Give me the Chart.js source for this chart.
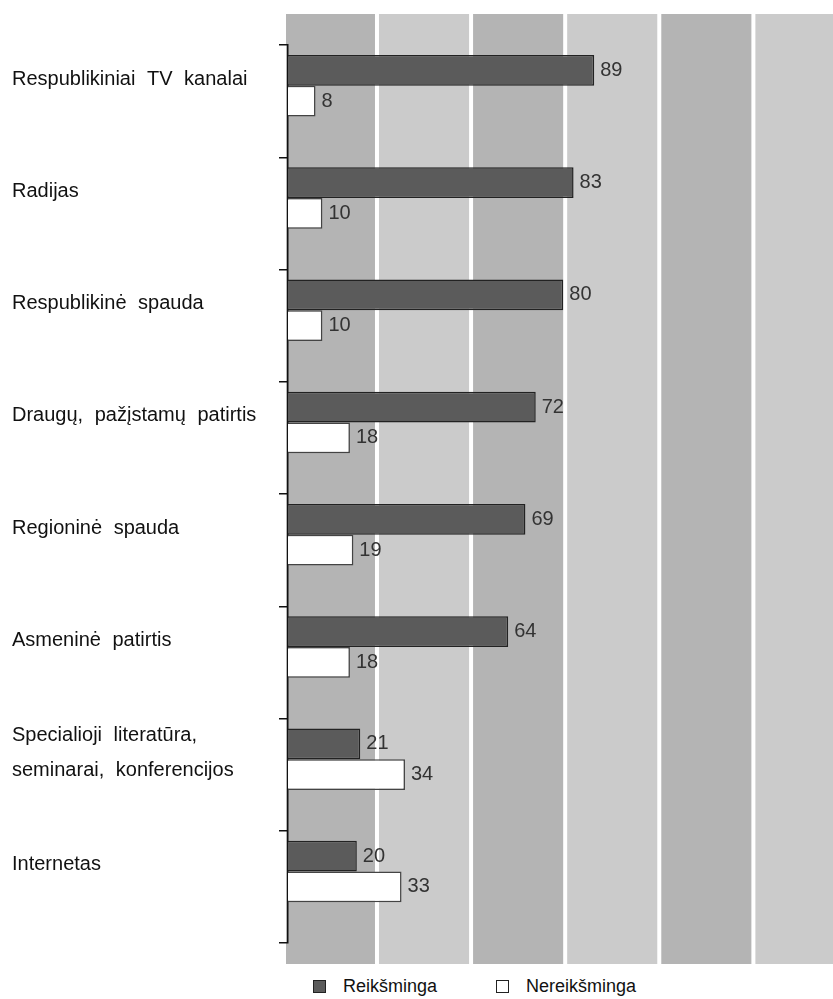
<!DOCTYPE html>
<html>
<head>
<meta charset="utf-8">
<script src="https://cdn.jsdelivr.net/npm/chart.js@4"></script>
<style>
  body { margin: 0; background: #fff; font-family: "Liberation Sans", Arial, sans-serif; }
  #wrap { position: relative; width: 833px; height: 970px; }
  #legend { position: absolute; top: 976px; left: 313px; display: flex; font-size: 18px; color: #111; }
  #legend .item { display: flex; align-items: center; margin-right: 59px; }
  #legend .box { width: 11px; height: 11px; border: 1.5px solid #222; margin-right: 17px; }
</style>
</head>
<body>
<div id="wrap"><canvas id="chart"></canvas></div>
<div id="legend"></div>
<script>
var categories = [
    "Respublikiniai TV kanalai",
    "Radijas",
    "Respublikinė spauda",
    "Draugų, pažįstamų patirtis",
    "Regioninė spauda",
    "Asmeninė patirtis",
    ["Specialioji literatūra,", "seminarai, konferencijos"],
    "Internetas"
];
var reiksminga = [89, 83, 80, 72, 69, 64, 21, 20];
var nereiksminga = [8, 10, 10, 18, 19, 18, 34, 33];

// grey stripes behind the plot (x units)
var bandStart = 25.86, bandStep = 27.35;

var bandsPlugin = {
    id: "bands",
    beforeDraw: function (chart) {
        var ctx = chart.ctx, area = chart.chartArea, x = chart.scales.x;
        var top = area.top - 31, bottom = area.bottom + 21;
        var edges = [area.left - 2];
        for (var v = bandStart; x.getPixelForValue(v) < area.right; v += bandStep) {
            edges.push(x.getPixelForValue(v));
        }
        edges.push(area.right);
        ctx.save();
        for (var i = 0; i < edges.length - 1; i++) {
            ctx.fillStyle = i % 2 === 0 ? "#b4b4b4" : "#cbcbcb";
            ctx.fillRect(edges[i], top, edges[i + 1] - edges[i], bottom - top);
        }
        ctx.fillStyle = "#ffffff";
        for (var j = 1; j < edges.length - 1; j++) {
            ctx.fillRect(edges[j] - 2, top, 4, bottom - top);
        }
        ctx.restore();
        ctx.wordSpacing = "6px";
    }
};

var valuePlugin = {
    id: "values",
    afterDatasetsDraw: function (chart) {
        var ctx = chart.ctx;
        ctx.save();
        ctx.font = "20px 'Liberation Sans', Arial, sans-serif";
        ctx.fillStyle = "#333";
        ctx.textBaseline = "middle";
        [0, 1].forEach(function (d) {
            var ds = chart.data.datasets[d];
            chart.getDatasetMeta(d).data.forEach(function (bar, i) {
                ctx.fillText(ds.data[i], bar.x + 6, bar.y);
            });
        });
        ctx.restore();
    }
};

var chart = new Chart(document.getElementById("chart"), {
    "type": "bar",
    "data": {
        "labels": categories,
        "datasets": [{
            "label": "Reikšminga",
            "data": reiksminga,
            "backgroundColor": "#5b5b5b",
            "borderColor": "#222",
            "borderWidth": 1.5
        }, {
            "label": "Nereikšminga",
            "data": nereiksminga,
            "backgroundColor": "#ffffff",
            "borderColor": "#444",
            "borderWidth": 1.5
        }, {
            // empty slot so the pair sits in the upper part of each row
            "label": "",
            "data": categories.map(function () { return null; })
        }]
    },
    "options": {
        indexAxis: "y",
        responsive: true,
        maintainAspectRatio: false,
        animation: false,
        datasets: { bar: { categoryPercentage: 0.82, barPercentage: 1 } },
        layout: { padding: { top: 45, bottom: 27, left: 12, right: 0 } },
        plugins: { legend: { display: false }, tooltip: { enabled: false } },
        scales: {
            x: { display: false, min: 0, max: 158.4 },
            y: {
                afterFit: function (scale) { scale.width = 276; },
                grid: { offset: true, drawOnChartArea: false, color: "#111", lineWidth: 1.5, tickLength: 9 },
                border: { display: true, color: "#111", width: 1.5 },
                ticks: {
                    crossAlign: "far",
                    labelOffset: -22,
                    color: "#111",
                    font: { family: "'Liberation Sans', Arial, sans-serif", size: 20, lineHeight: 1.75 }
                }
            }
        }
    },
    plugins: [bandsPlugin, valuePlugin]
});

var legend = document.getElementById("legend");
chart.data.datasets.slice(0, 2).forEach(function (ds) {
    var item = document.createElement("div");
    item.className = "item";
    item.innerHTML = '<span class="box" style="background:' + ds.backgroundColor + '"></span>' + ds.label;
    legend.appendChild(item);
});
</script>
</body>
</html>
